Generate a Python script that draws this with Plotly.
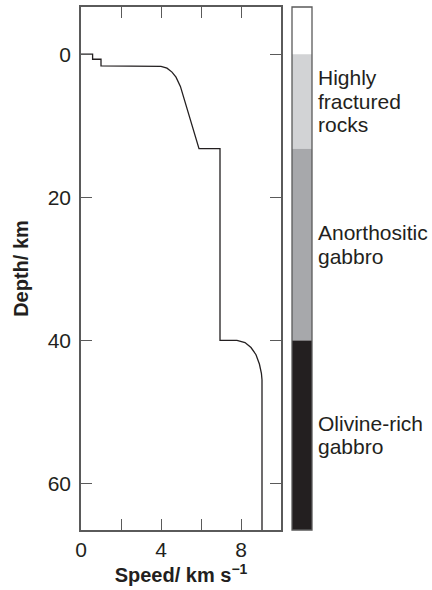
import plotly.graph_objects as go

# Velocity profile (speed in km/s vs depth in km)
speed = [0.0, 0.58, 0.58, 1.0, 1.0, 3.6, 4.0, 4.3, 4.55, 4.75, 4.9, 4.97, 5.9, 6.95, 6.95, 7.05,
         7.8, 8.2, 8.5, 8.75, 8.92, 9.02, 9.05, 9.05]
depth = [0.0, 0.0, 0.7, 0.7, 1.64, 1.64, 1.7, 1.95, 2.5, 3.2, 4.0, 4.5, 13.2, 13.2, 40.0, 40.0,
         40.0, 40.3, 41.0, 42.0, 43.3, 44.6, 45.5, 66.5]

# Rock layers
layer_names = [["Highly", "fractured", "rocks"], ["Anorthositic", "gabbro"], ["Olivine-rich", "gabbro"]]
layer_top = [0.0, 13.2, 40.0]
layer_bottom = [13.2, 40.0, 66.5]
layer_colors = ["#d2d3d5", "#a7a8ab", "#231f20"]

x_ticks = [0, 2, 4, 6, 8]
x_ticklabels = ["0", "", "4", "", "8"]
y_ticks = [0, 20, 40, 60]

x_range = [0, 10]
y_range = [66.5, -6.6]

FONT = "Liberation Sans, Arial, sans-serif"
INK = "#231f20"
FRAME = "#5a5a5a"
LINE_H = 23.5

fig = go.Figure()

fig.add_trace(go.Scatter(x=speed, y=depth, mode="lines",
                         line=dict(color=INK, width=1.3), xaxis="x", yaxis="y",
                         showlegend=False, hoverinfo="skip"))

for top, bot, col in zip(layer_top, layer_bottom, layer_colors):
    fig.add_trace(go.Bar(x=[0], y=[bot - top], base=[top], width=1,
                         marker=dict(color=col, line=dict(width=0)),
                         xaxis="x2", yaxis="y", showlegend=False, hoverinfo="skip"))

for lines, top, bot in zip(layer_names, layer_top, layer_bottom):
    n = len(lines)
    for i, txt in enumerate(lines):
        fig.add_annotation(text=txt, x=1.017, xref="paper", y=(top + bot) / 2, yref="y",
                           yshift=-(i - (n - 1) / 2) * LINE_H,
                           xanchor="left", yanchor="middle", align="left", showarrow=False,
                           font=dict(family=FONT, size=21, color=INK))

# border around the colour column
fig.add_shape(type="rect", xref="x2 domain", yref="y domain", x0=0, x1=1, y0=0, y1=1,
              line=dict(color=FRAME, width=1.3), fillcolor="rgba(0,0,0,0)", layer="above")

W_TOTAL = 231.0
fig.update_layout(
    width=432, height=590,
    margin=dict(l=81, r=120, t=7, b=60),
    paper_bgcolor="white", plot_bgcolor="white",
    barmode="overlay",
    font=dict(family=FONT, size=21, color=INK),
    xaxis=dict(domain=[0, 200 / W_TOTAL], range=x_range, tickvals=x_ticks, ticktext=x_ticklabels,
               ticks="inside", ticklen=11, tickwidth=1.2, tickcolor=FRAME,
               showline=True, linecolor=FRAME, linewidth=1.5, mirror="ticks",
               showgrid=False, zeroline=False, automargin=False,
               tickfont=dict(family=FONT, size=21, color=INK),
               title=dict(text="<b>Speed/ km s<sup>−1</sup></b>", font=dict(family=FONT, size=20, color=INK),
                          standoff=3)),
    yaxis=dict(range=y_range, tickvals=y_ticks, ticks="inside", ticklen=11, tickwidth=1.2,
               tickcolor=FRAME, showline=True, linecolor=FRAME, linewidth=1.5, mirror="ticks",
               showgrid=False, zeroline=False, automargin=False, ticklabelstandoff=4,
               tickfont=dict(family=FONT, size=21, color=INK),
               title=dict(text="<b>Depth/ km</b>", font=dict(family=FONT, size=20, color=INK),
                          standoff=14)),
    xaxis2=dict(domain=[211 / W_TOTAL, 1], range=[-0.5, 0.5], showticklabels=False, ticks="",
                showline=False, showgrid=False, zeroline=False, anchor="y", automargin=False),
)

fig.write_html("out.html", config={"displayModeBar": False},
               post_script="document.body.style.margin='0px';document.body.style.overflow='hidden';")
